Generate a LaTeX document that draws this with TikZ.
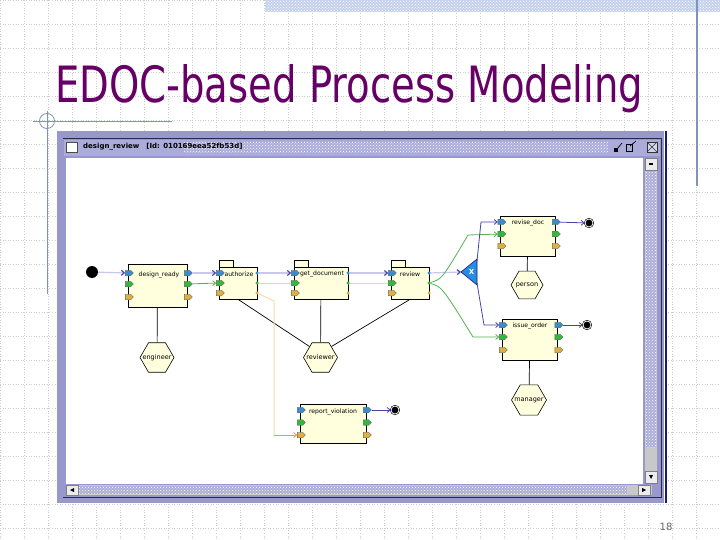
\documentclass[tikz,border=0pt]{standalone}
\usepackage{graphicx}
\usepackage{fontspec}
\setmainfont{DejaVu Sans}
\usetikzlibrary{shapes.geometric,shapes.symbols,arrows.meta,patterns}

\definecolor{titlepurple}{RGB}{102,0,102}
\definecolor{gridgray}{RGB}{205,205,205}
\definecolor{decoblue}{RGB}{130,145,190}
\definecolor{bandblue}{RGB}{196,210,238}
\definecolor{framelav}{RGB}{152,152,204}
\definecolor{barlav}{RGB}{172,172,218}
\definecolor{framedark}{RGB}{40,40,80}
\definecolor{navy}{RGB}{20,30,120}
\definecolor{boxfill}{RGB}{255,255,222}
\definecolor{portblue}{RGB}{60,140,205}
\definecolor{portgreen}{RGB}{50,185,60}
\definecolor{portorange}{RGB}{222,176,64}
\definecolor{seqlav}{RGB}{200,200,238}
\definecolor{seqblue}{RGB}{70,70,170}
\definecolor{flowgreen}{RGB}{80,180,80}
\definecolor{palegreen}{RGB}{190,232,190}
\definecolor{paleorange}{RGB}{245,220,175}
\definecolor{deeporange}{RGB}{230,160,60}
\definecolor{xorblue}{RGB}{40,140,230}
\definecolor{scrollgray}{RGB}{200,200,200}

\begin{document}
\begin{tikzpicture}[x=1pt,y=-1pt]
    \def\gap{24}
    \tikzstyle{gridline} = [gridgray, dotted, line width=0.6pt]
    \tikzstyle{decoline} = [decoblue, line width=0.8pt]
    \tikzstyle{taskbox} = [draw=black, line width=0.7pt, fill=boxfill, inner sep=0pt]
    \tikzstyle{boxtext} = [font=\fontsize{6.1}{7}\selectfont, inner sep=0pt]
    \tikzstyle{portflag} = [shape=signal, signal to=east, draw=black!60, line width=0.3pt, minimum width=8pt, minimum height=5.5pt, inner sep=0pt]
    \tikzstyle{portdot} = [circle, minimum size=3.5pt, inner sep=0pt]
    \tikzstyle{rolehex} = [regular polygon, regular polygon sides=6, draw=black, line width=0.6pt, fill=boxfill, minimum size=34pt, inner sep=0pt, font=\fontsize{6.5}{7}\selectfont]
    \tikzstyle{startnode} = [circle, fill=black, minimum size=12pt, inner sep=0pt]
    \tikzstyle{endnode} = [circle, fill=black, draw=black, double=white, double distance=0.8pt, line width=0.6pt, minimum size=8pt, inner sep=0pt]
    \tikzstyle{seqflow} = [seqlav, line width=1.2pt, -{Straight Barb[length=3pt,width=5pt,color=seqblue]}]
    \tikzstyle{dataflow} = [flowgreen, line width=0.8pt, -{Straight Barb[length=3pt,width=5pt]}]
    \tikzstyle{paleflow} = [palegreen, line width=1pt]
    \tikzstyle{choiceflow} = [seqblue, line width=0.8pt, -{Straight Barb[length=3pt,width=5pt]}]
    \tikzstyle{roleline} = [black, line width=0.7pt]
    \tikzstyle{scrollbtn} = [draw=gray, fill=gray!15, inner sep=0pt]

    % slide
    \fill[white] (0,0) rectangle (720,540);
    \useasboundingbox (0,0) rectangle (720,540);
    \foreach \x in {0,\gap,...,720} \draw[gridline] (\x,0) -- (\x,540);
    \foreach \y in {0,\gap,...,528} \draw[gridline] (0,\y) -- (720,\y);
    \fill[bandblue] (265,0) rectangle (720,12);
    \fill[pattern=crosshatch dots, pattern color=white] (265,0) rectangle (720,12);
    \draw[decoblue, line width=1.5pt] (697,0) -- (697,186);
    \draw[decoline] (33,121) -- (172,121);
    \draw[decoline] (47,111) -- (47,294);
    \draw[decoline] (47,121) circle[radius=7.5];
    \node[anchor=base west, inner sep=0pt, text=titlepurple] (title) at (55,103) {\resizebox{588pt}{38pt}{EDOC-based Process Modeling}};
    \node[text=black!60, font=\fontsize{10}{12}\selectfont] (pagenum) at (666,527) {18};

    % window
    \fill[framelav] (57,131) rectangle (664,503);
    \draw[navy, line width=1.8pt] (666,131) -- (666,503);
    \draw[framedark, line width=1pt] (63,497) -- (661,497) -- (661,139) -- (63,139);
    \fill[barlav] (64,140) rectangle (660,156);
    \fill[pattern=crosshatch dots, pattern color=white] (184,142) rectangle (608,153);
    \node[draw=black!70, fill=white, minimum width=11pt, minimum height=10pt, inner sep=0pt] (winicon) at (72,147) {};
    \node[anchor=west, inner sep=0pt, font=\fontsize{7}{8}\selectfont\bfseries] (wintitle) at (83,147) {design\_review\hspace{7pt}[Id: 010169eea52fb53d]};
    \fill[black] (614,148) rectangle (618,152);
    \draw[black, line width=0.7pt] (617,149) -- (622,143);
    \draw[black, line width=0.7pt] (626,144) rectangle (632,151);
    \draw[black, line width=0.7pt] (630,146) -- (636,141);
    \node[draw=black!80, fill=barlav!50!white, minimum size=10pt, inner sep=0pt] (btnclose) at (652,147) {};
    \draw[black!80] (btnclose.north west) -- (btnclose.south east) (btnclose.north east) -- (btnclose.south west);
    \fill[white] (66,158) rectangle (643,484);
    \fill[scrollgray] (645,158) rectangle (657,484);
    \fill[barlav] (646,171) rectangle (656,447);
    \fill[pattern=crosshatch dots, pattern color=white] (646,171) rectangle (656,447);
    \node[scrollbtn, minimum width=12pt, minimum height=12pt] (scrollup) at (651,164) {};
    \node[scrollbtn, minimum width=12pt, minimum height=12pt] (scrolldown) at (651,477) {};
    \fill[black] (649,163) rectangle (653,165);
    \fill[black] (649,475) -- (653,475) -- (651,479) -- cycle;
    \fill[scrollgray] (66,485) rectangle (652,495);
    \fill[barlav] (79,486) rectangle (627,494);
    \fill[pattern=crosshatch dots, pattern color=white] (79,486) rectangle (627,494);
    \node[scrollbtn, minimum width=12pt, minimum height=10pt] (scrollleft) at (72,490) {};
    \node[scrollbtn, minimum width=12pt, minimum height=10pt] (scrollright) at (644,490) {};
    \fill[black] (70,490) -- (74,488) -- (74,492) -- cycle;
    \fill[black] (646,490) -- (642,488) -- (642,492) -- cycle;

    % activities
    \node[taskbox, minimum width=59pt, minimum height=43pt] (ready) at (157.5,285.5) {};
    \node[taskbox, minimum width=38pt, minimum height=32pt] (auth) at (238,283) {};
    \node[taskbox, minimum width=54pt, minimum height=32pt] (doc) at (321,283) {};
    \node[taskbox, minimum width=38pt, minimum height=32pt] (rev) at (410,283) {};
    \node[taskbox, minimum width=54.5pt, minimum height=40pt] (top) at (527.75,236) {};
    \node[taskbox, minimum width=55.5pt, minimum height=41pt] (issue) at (529.75,339.5) {};
    \node[taskbox, minimum width=66pt, minimum height=39pt] (viol) at (333,423.5) {};
    \foreach \xl in {219,294,391} {
        \fill[boxfill] (\xl,260) rectangle (\xl+14,267);
        \draw[taskbox, fill=none] (\xl,267) -- (\xl,260) -- (\xl+14,260) -- (\xl+14,267);
    }
    \node[boxtext] (ready-txt) at (159,275) {design\_ready};
    \node[boxtext] (auth-txt) at (239,274) {authorize};
    \node[boxtext] (doc-txt) at (322,274) {get\_document};
    \node[boxtext] (rev-txt) at (410,274) {review};
    \node[boxtext] (top-txt) at (528,223) {revise\_doc};
    \node[boxtext] (issue-txt) at (530,326) {issue\_order};
    \node[boxtext] (viol-txt) at (333,412) {report\_violation};

    % ports
    \foreach \n/\xl/\xr/\ya/\yb/\yc in {ready/128/187/273/284/297, top/500.5/555/222/234/246, issue/502/557.5/325/337/350, viol/300/366/410/422.5/435} {
        \node[portflag, fill=portblue] (\n-in-1) at (\xl,\ya) {};
        \node[portflag, fill=portgreen] (\n-in-2) at (\xl,\yb) {};
        \node[portflag, fill=portorange] (\n-in-3) at (\xl,\yc) {};
        \node[portflag, fill=portblue] (\n-out-1) at (\xr,\ya) {};
        \node[portflag, fill=portgreen] (\n-out-2) at (\xr,\yb) {};
        \node[portflag, fill=portorange] (\n-out-3) at (\xr,\yc) {};
    }
    \foreach \n/\xl/\xr in {auth/219/257, doc/294/348, rev/391/429} {
        \node[portflag, fill=portblue] (\n-in-1) at (\xl,273) {};
        \node[portflag, fill=portgreen] (\n-in-2) at (\xl,283) {};
        \node[portflag, fill=portorange] (\n-in-3) at (\xl,293) {};
        \node[portdot, fill=portblue] (\n-out-1) at (\xr,273) {};
        \node[portdot, fill=portgreen] (\n-out-2) at (\xr,283) {};
        \node[portdot, fill=portorange] (\n-out-3) at (\xr,293) {};
    }

    % roles
    \node[rolehex] (eng) at (157,357.5) {\makebox[0pt]{engineer}};
    \node[rolehex] (revrole) at (320.5,357.5) {\makebox[0pt]{reviewer}};
    \node[rolehex, minimum size=32pt] (toprole) at (527,285) {\makebox[0pt]{person}};
    \node[rolehex, minimum size=35pt] (mgr) at (529,400) {\makebox[0pt]{manager}};
    \draw[roleline] (ready) -- (eng);
    \draw[roleline] (doc) -- (revrole);
    \draw[roleline] (auth.south) -- (revrole.north west);
    \draw[roleline] (rev.south) -- (revrole.north east);
    \draw[roleline] (top) -- (toprole);
    \draw[roleline] (issue) -- (mgr);

    % start, choice, ends
    \node[startnode] (start) at (92,272) {};
    \node[endnode] (end1) at (589,223) {};
    \node[endnode] (end2) at (587,325) {};
    \node[endnode] (end3) at (395,410) {};
    \filldraw[fill=xorblue, draw=navy, line width=0.6pt] (461,272) -- (477,259) -- (477,285) -- cycle;
    \coordinate (xortip) at (461,272);
    \coordinate (xortop) at (477,261);
    \coordinate (xorbot) at (477,283);
    \node[font=\fontsize{7}{8}\selectfont\bfseries, text=white, inner sep=0pt] (xor) at (471.5,272) {X};

    % flows
    \draw[seqflow] (start) -- (ready-in-1);
    \draw[seqflow] (ready-out-1) -- (auth-in-1);
    \draw[seqflow] (auth-out-1) -- (doc-in-1);
    \draw[seqflow] (doc-out-1) -- (rev-in-1);
    \draw[seqflow] (rev-out-1) -- (xortip);
    \draw[dataflow] (ready-out-2) -- (auth-in-2);
    \draw[paleflow] (auth-out-2) -- (doc-in-2);
    \draw[paleflow] (doc-out-2) -- (rev-in-2);
    \draw[dataflow] (rev-out-2) .. controls (442,279) .. (468,235) -- (top-in-2);
    \draw[dataflow] (rev-out-2) .. controls (442,287) .. (473,337) -- (issue-in-2);
    \draw[choiceflow] (xortop) -- (481,222) -- (top-in-1);
    \draw[choiceflow] (xorbot) -- (484,325) -- (issue-in-1);
    \draw[choiceflow] (top-out-1) -- (end1);
    \draw[choiceflow] (issue-out-1) -- (end2);
    \draw[choiceflow] (viol-out-1) -- (end3);
    \coordinate (exbend) at (274,435);
    \draw[paleorange, line width=1pt] (auth-out-3) -- (274,301) -- (exbend);
    \draw[deeporange, line width=0.8pt, -{Straight Barb[length=3pt,width=5pt]}] (exbend) -- (viol-in-3);
\end{tikzpicture}
\end{document}
